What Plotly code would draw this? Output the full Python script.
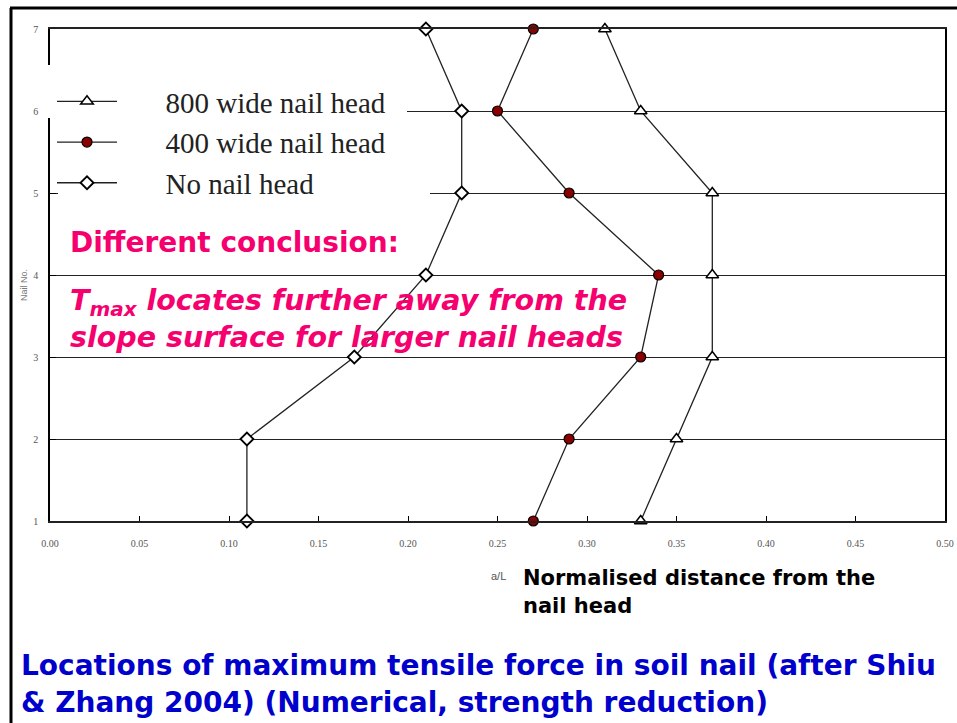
import plotly.graph_objects as go

nail_no = [1, 2, 3, 4, 5, 6, 7]
wide800 = [0.33, 0.35, 0.37, 0.37, 0.37, 0.33, 0.31]
wide400 = [0.27, 0.29, 0.33, 0.34, 0.29, 0.25, 0.27]
no_head = [0.11, 0.11, 0.17, 0.21, 0.23, 0.23, 0.21]
x_ticks = [0.00, 0.05, 0.10, 0.15, 0.20, 0.25, 0.30, 0.35, 0.40, 0.45, 0.50]
y_ticks = [1, 2, 3, 4, 5, 6, 7]

W, H = 957, 723
L, R, T, B = 50, 945, 29, 521


def px(x):
    return (x - L) / (R - L)


def py(y):
    return (B - y) / (B - T)


PINK = "#F5006E"
BLUE = "#0000CC"
NBSP = "\u00a0"
VERD = "DejaVu Sans, Verdana, sans-serif"

fig = go.Figure()
line_style = dict(color="#222222", width=1.3)
fig.add_trace(go.Scatter(
    x=wide800, y=nail_no, mode="lines+markers", name=NBSP * 6 + "800 wide nail head",
    line=line_style, legendgroup="a",
    marker=dict(symbol="triangle-up", size=11, color="white", line=dict(color="black", width=1.5)),
    cliponaxis=False))
fig.add_trace(go.Scatter(
    x=wide400, y=nail_no, mode="lines+markers", name=NBSP * 6 + "400 wide nail head",
    line=line_style, legendgroup="b",
    marker=dict(symbol="circle", size=10, color="#8B0000", line=dict(color="black", width=1.2)),
    cliponaxis=False))
fig.add_trace(go.Scatter(
    x=no_head, y=nail_no, mode="lines+markers", name=NBSP * 6 + "No nail head",
    line=line_style, legendgroup="c",
    marker=dict(symbol="diamond", size=10, color="white", line=dict(color="black", width=1.8)),
    cliponaxis=False))

shapes = [
    # white patches behind legend
    dict(type="rect", xref="paper", yref="paper", x0=px(44), x1=px(407), y0=py(118), y1=py(65),
         fillcolor="white", line=dict(width=0), layer="above"),
    dict(type="rect", xref="paper", yref="paper", x0=px(58), x1=px(430), y0=py(200), y1=py(118),
         fillcolor="white", line=dict(width=0), layer="above"),
    # outer frame
    dict(type="line", xref="paper", yref="paper", x0=px(10), x1=px(957), y0=py(8), y1=py(8),
         line=dict(color="black", width=3)),
    dict(type="line", xref="paper", yref="paper", x0=px(11), x1=px(11), y0=py(8), y1=py(723),
         line=dict(color="black", width=3)),
]

tick_font = dict(family="Liberation Serif, Times New Roman, serif", size=10, color="#555555")
annotations = [
    dict(text="Nail No.", x=px(17), y=py(285), xref="paper", yref="paper", showarrow=False,
         textangle=-90, font=dict(family="Liberation Sans, Arial", size=9, color="#777777")),
    dict(text="<b>Different conclusion:</b>", x=px(68), y=py(242), xref="paper", yref="paper",
         xanchor="left", yanchor="middle", showarrow=False,
         font=dict(family=VERD, size=28, color=PINK)),
    dict(text="<b><i>T<sub>max</sub> locates further away from the</i></b>", x=px(68), y=py(302),
         xref="paper", yref="paper", xanchor="left", yanchor="middle", showarrow=False,
         font=dict(family=VERD, size=28.5, color=PINK)),
    dict(text="<b><i>slope surface for larger nail heads</i></b>", x=px(68), y=py(337),
         xref="paper", yref="paper", xanchor="left", yanchor="middle", showarrow=False,
         font=dict(family=VERD, size=28.5, color=PINK)),
    dict(text="a/L", x=px(489), y=py(576), xref="paper", yref="paper", xanchor="left",
         yanchor="middle", showarrow=False,
         font=dict(family="Liberation Sans, Arial", size=11, color="#555555")),
    dict(text="<b>Normalised distance from the</b>", x=px(521), y=py(578), xref="paper", yref="paper",
         xanchor="left", yanchor="middle", showarrow=False,
         font=dict(family=VERD, size=21, color="black")),
    dict(text="<b>nail head</b>", x=px(521), y=py(606), xref="paper", yref="paper",
         xanchor="left", yanchor="middle", showarrow=False,
         font=dict(family=VERD, size=21, color="black")),
    dict(text="<b>Locations of maximum tensile force in soil nail (after Shiu</b>", x=px(19), y=py(665),
         xref="paper", yref="paper", xanchor="left", yanchor="middle", showarrow=False,
         font=dict(family=VERD, size=28, color=BLUE)),
    dict(text="<b>&amp; Zhang 2004) (Numerical, strength reduction)</b>", x=px(19), y=py(702),
         xref="paper", yref="paper", xanchor="left", yanchor="middle", showarrow=False,
         font=dict(family=VERD, size=28, color=BLUE)),
]

fig.update_layout(
    width=W, height=H,
    margin=dict(l=L, r=W - R, t=T, b=H - B),
    paper_bgcolor="white", plot_bgcolor="white",
    shapes=shapes, annotations=annotations,
    showlegend=True,
    legend=dict(x=px(52), y=py(76), xanchor="left", yanchor="top", bgcolor="rgba(0,0,0,0)",
                font=dict(family="Liberation Serif, Times New Roman, serif", size=29, color="#222222"),
                tracegroupgap=0, itemwidth=60),
    xaxis=dict(range=[0, 0.5], tickvals=x_ticks, ticktext=[f"{v:.2f}" for v in x_ticks],
               showgrid=False, zeroline=False, showline=True, linecolor="#222222", linewidth=1.5,
               mirror=True, automargin=False,
               ticks="inside", ticklen=5, tickcolor="black", tickwidth=1.2,
               tickfont=tick_font, ticklabelstandoff=12),
    yaxis=dict(range=[1, 7], tickvals=y_ticks, showgrid=True, gridcolor="#222222", gridwidth=1.3,
               zeroline=False, showline=True, linecolor="black", linewidth=1.5, mirror=True,
               automargin=False,
               ticks="inside", ticklen=6, tickcolor="black", tickwidth=1.2,
               tickfont=tick_font, ticklabelstandoff=8),
)

fig.write_html("out.html")
